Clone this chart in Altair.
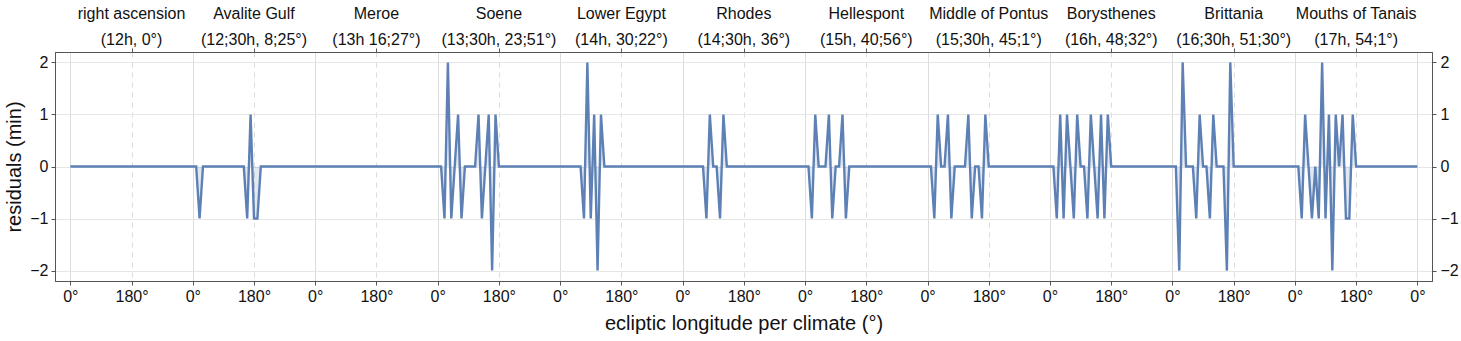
import altair as alt
import pandas as pd

# Climate labels (top axis)
climate_names = ["right ascension", "Avalite Gulf", "Meroe", "Soene", "Lower Egypt",
                 "Rhodes", "Hellespont", "Middle of Pontus", "Borysthenes",
                 "Brittania", "Mouths of Tanais"]
climate_coords = ["(12h, 0°)", "(12;30h, 8;25°)", "(13h 16;27°)", "(13;30h, 23;51°)",
                  "(14h, 30;22°)", "(14;30h, 36°)", "(15h, 40;56°)", "(15;30h, 45;1°)",
                  "(16h, 48;32°)", "(16;30h, 51;30°)", "(17h, 54;1°)"]

# Longitude steps within each climate (degrees)
longitudes = list(range(0, 360, 10))

# Residuals (min) for each climate at longitudes 0,10,...,350
res_right_ascension = [0]*36
res_avalite = [0, 0, -1, 0, 0, 0, 0, 0, 0, 0, 0, 0, 0, 0, 0, 0, -1, 1, -1, -1,
               0, 0, 0, 0, 0, 0, 0, 0, 0, 0, 0, 0, 0, 0, 0, 0]
res_meroe = [0]*36
res_soene = [0, 0, -1, 2, -1, 0, 1, -1, 0, 0, 0, 0, 1, -1, 0, 1, -2, 1, 0, 0,
             0, 0, 0, 0, 0, 0, 0, 0, 0, 0, 0, 0, 0, 0, 0, 0]
res_lower_egypt = [0, 0, 0, 0, 0, 0, 0, -1, 2, -1, 1, -2, 1, 0, 0, 0, 0, 0, 0, 0,
                   0, 0, 0, 0, 0, 0, 0, 0, 0, 0, 0, 0, 0, 0, 0, 0]
res_rhodes = [0, 0, 0, 0, 0, 0, 0, -1, 1, 0, 0, -1, 1, 0, 0, 0, 0, 0, 0, 0,
              0, 0, 0, 0, 0, 0, 0, 0, 0, 0, 0, 0, 0, 0, 0, 0]
res_hellespont = [0, 0, -1, 1, 0, 0, 0, 1, -1, 0, 0, 1, -1, 0, 0, 0, 0, 0, 0, 0,
                  0, 0, 0, 0, 0, 0, 0, 0, 0, 0, 0, 0, 0, 0, 0, 0]
res_pontus = [0, 0, -1, 1, 0, 0, 1, -1, 0, 0, 0, 0, 1, -1, 0, 0, -1, 1, 0, 0,
              0, 0, 0, 0, 0, 0, 0, 0, 0, 0, 0, 0, 0, 0, 0, 0]
res_borysthenes = [0, 0, -1, 1, -1, 1, 0, -1, 1, 0, 0, -1, 1, 0, -1, 1, -1, 1, 0, 0,
                   0, 0, 0, 0, 0, 0, 0, 0, 0, 0, 0, 0, 0, 0, 0, 0]
res_brittania = [0, 0, -2, 2, 0, 0, 0, -1, 1, 0, 0, -1, 1, 0, 0, 0, -2, 2, 0, 0,
                 0, 0, 0, 0, 0, 0, 0, 0, 0, 0, 0, 0, 0, 0, 0, 0]
res_tanais = [0, 0, -1, 1, 0, -1, 0, -1, 2, -1, 1, -2, 1, 0, 1, -1, -1, 1, 0, 0,
              0, 0, 0, 0, 0, 0, 0, 0, 0, 0, 0, 0, 0, 0, 0, 0]
final_residual = 0

all_residuals = [res_right_ascension, res_avalite, res_meroe, res_soene, res_lower_egypt,
                 res_rhodes, res_hellespont, res_pontus, res_borysthenes,
                 res_brittania, res_tanais]

rows = []
for k, series in enumerate(all_residuals):
    for lon, r in zip(longitudes, series):
        rows.append({"x": k * 360 + lon, "r": r})
rows.append({"x": len(all_residuals) * 360, "r": final_residual})
df = pd.DataFrame(rows)

n = len(climate_names)
bottom_ticks = list(range(0, n * 360 + 1, 180))
top_ticks = [k * 360 + 180 for k in range(n)]
labels_df = pd.DataFrame({"x": top_ticks, "name": climate_names, "coord": climate_coords})

FONT = "Liberation Sans"
LINE = "#5E81B5"
TEXT = "#111111"

xscale = alt.Scale(domain=[-45, n * 360 + 43], nice=False, zero=False)
yscale = alt.Scale(domain=[-2.2, 2.2], nice=False, zero=False)

grid_dash = {"condition": {"test": "datum.value % 360 == 0", "value": []}, "value": [5, 5]}

x_bottom = alt.X("x:Q", scale=xscale,
                 axis=alt.Axis(orient="bottom", values=bottom_ticks,
                               labelExpr="datum.value % 360 == 0 ? '0°' : '180°'",
                               title="ecliptic longitude per climate (°)",
                               grid=True, gridDash=grid_dash, gridColor="#dcdcdc",
                               tickSize=4, labelPadding=3, titlePadding=9))
y_left = alt.Y("r:Q", scale=yscale,
               axis=alt.Axis(orient="left", values=[-2, -1, 0, 1, 2], title="residuals (min)",
                             grid=True, gridColor="#e6e6e6", tickSize=4, labelPadding=3,
                             titlePadding=5))

area = alt.Chart(df).mark_area(color=LINE, opacity=0.18, interpolate="linear").encode(
    x=x_bottom, y=y_left, y2=alt.datum(0)
)

x_top = alt.X("x:Q", scale=xscale,
              axis=alt.Axis(orient="top", values=top_ticks, title=None, grid=False,
                            labels=False, tickSize=4))
y_right = alt.Y("r:Q", scale=yscale,
                axis=alt.Axis(orient="right", values=[-2, -1, 0, 1, 2], title=None,
                              grid=False, tickSize=4, labelPadding=4))

line = alt.Chart(df).mark_line(color=LINE, strokeWidth=2.4, interpolate="linear").encode(
    x=x_top, y=y_right
)

name_text = alt.Chart(labels_df).mark_text(
    font=FONT, fontSize=16, color=TEXT, baseline="middle", align="center"
).encode(x=alt.X("x:Q", scale=xscale, axis=None), y=alt.value(-38), text="name:N")

coord_text = alt.Chart(labels_df).mark_text(
    font=FONT, fontSize=16, color=TEXT, baseline="middle", align="center"
).encode(x=alt.X("x:Q", scale=xscale, axis=None), y=alt.value(-12), text="coord:N")

chart = alt.layer(area, line, name_text, coord_text).resolve_axis(
    x="independent", y="independent"
).properties(
    width=1377, height=229,
    autosize=alt.AutoSizeParams(type="none"),
    padding={"left": 55, "top": 52, "right": 29, "bottom": 60},
    background="white",
).configure_view(stroke="#555555", strokeWidth=1).configure_axis(
    labelFont=FONT, titleFont=FONT, labelFontSize=16, titleFontSize=20,
    labelColor=TEXT, titleColor=TEXT, titleFontWeight="normal",
    domainColor="#555555", tickColor="#555555", labelFlush=False
)

chart.save("out.html", embed_options={"renderer": "svg", "actions": False})
